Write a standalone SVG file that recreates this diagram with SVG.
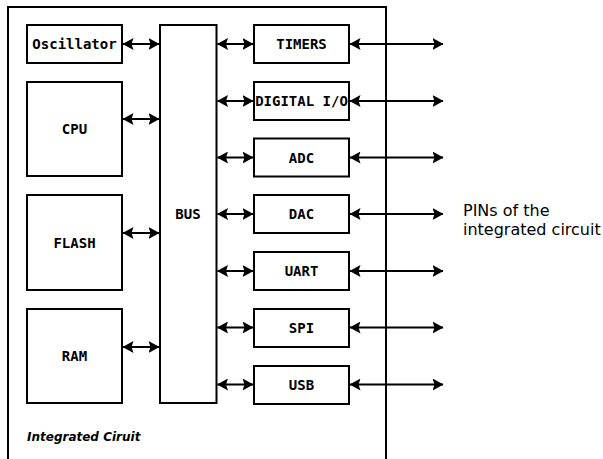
<svg xmlns="http://www.w3.org/2000/svg" width="603" height="459" viewBox="0 0 603 459">
  <style>
    .box { fill: #ffffff; stroke: #000000; stroke-width: 2; }
    .frame { fill: none; stroke: #000000; stroke-width: 2; }
    .lbl { font-family: "DejaVu Sans Mono", "Liberation Mono", monospace; font-weight: bold; font-size: 14px; text-anchor: middle; dominant-baseline: central; fill: #000000; }
    .link { stroke: #000000; stroke-width: 2; fill: none; }
    .both { marker-start: url(#head); marker-end: url(#head); }
    .pins { font-family: "DejaVu Sans", "Liberation Sans", sans-serif; font-size: 16px; fill: #000000; }
    .chip { font-family: "DejaVu Sans", "Liberation Sans", sans-serif; font-size: 12px; font-weight: bold; font-style: italic; fill: #000000; }
  </style>
  <defs>
    <marker id="head" viewBox="0 0 11 12" refX="10.5" refY="6" markerWidth="11" markerHeight="12" markerUnits="userSpaceOnUse" orient="auto-start-reverse">
      <path d="M0,0 L11,6 L0,12 L2,6 z" fill="#000000"/>
    </marker>
  </defs>
  <rect width="603" height="459" fill="#ffffff"/>

  <!-- chip outline (open at the bottom) -->
  <path class="frame" d="M8,460 V7 H386 V460"/>
  <text class="chip" x="27" y="441">Integrated Ciruit</text>

  <!-- internal blocks -->
  <g id="oscillator"><rect class="box" x="27" y="25" width="95" height="38"/><text class="lbl" x="74.5" y="44">Oscillator</text></g>
  <g id="cpu"><rect class="box" x="27" y="82" width="95" height="94"/><text class="lbl" x="74.5" y="129">CPU</text></g>
  <g id="flash"><rect class="box" x="27" y="195" width="95" height="95"/><text class="lbl" x="74.5" y="242.5">FLASH</text></g>
  <g id="ram"><rect class="box" x="27" y="309" width="95" height="94"/><text class="lbl" x="74.5" y="356">RAM</text></g>
  <g id="bus"><rect class="box" x="160" y="25" width="56.5" height="378"/><text class="lbl" x="188" y="214">BUS</text></g>

  <!-- peripherals -->
  <g id="timers"><rect class="box" x="254" y="25" width="95" height="38"/><text class="lbl" x="301.5" y="44">TIMERS</text></g>
  <g id="digital-io"><rect class="box" x="254" y="82" width="95" height="38"/><text class="lbl" x="301.5" y="101">DIGITAL I/O</text></g>
  <g id="adc"><rect class="box" x="254" y="138.5" width="95" height="38"/><text class="lbl" x="301.5" y="157.5">ADC</text></g>
  <g id="dac"><rect class="box" x="254" y="195" width="95" height="38"/><text class="lbl" x="301.5" y="214">DAC</text></g>
  <g id="uart"><rect class="box" x="254" y="252" width="95" height="38"/><text class="lbl" x="301.5" y="271">UART</text></g>
  <g id="spi"><rect class="box" x="254" y="309" width="95" height="38"/><text class="lbl" x="301.5" y="328">SPI</text></g>
  <g id="usb"><rect class="box" x="254" y="366" width="95" height="38"/><text class="lbl" x="301.5" y="385">USB</text></g>

  <g id="pins-label">
    <text class="pins" x="463" y="215.5">PINs of the</text>
    <text class="pins" x="463" y="234.5">integrated circuit</text>
  </g>

  <!-- connectors -->
  <g id="connectors">
    <line class="link both" x1="123" y1="44" x2="159" y2="44"/>
    <line class="link both" x1="123" y1="119" x2="159" y2="119"/>
    <line class="link both" x1="123" y1="233" x2="159" y2="233"/>
    <line class="link both" x1="123" y1="347" x2="159" y2="347"/>

    <line class="link both" x1="217.5" y1="44" x2="253" y2="44"/>
    <line class="link both" x1="217.5" y1="101" x2="253" y2="101"/>
    <line class="link both" x1="217.5" y1="157.5" x2="253" y2="157.5"/>
    <line class="link both" x1="217.5" y1="214" x2="253" y2="214"/>
    <line class="link both" x1="217.5" y1="271" x2="253" y2="271"/>
    <line class="link both" x1="217.5" y1="327.5" x2="253" y2="327.5"/>
    <line class="link both" x1="217.5" y1="384.5" x2="253" y2="384.5"/>

    <line class="link both" x1="350" y1="44" x2="443" y2="44"/>
    <line class="link both" x1="350" y1="101" x2="443" y2="101"/>
    <line class="link both" x1="350" y1="157.5" x2="443" y2="157.5"/>
    <line class="link both" x1="350" y1="214" x2="443" y2="214"/>
    <line class="link both" x1="350" y1="271" x2="443" y2="271"/>
    <line class="link both" x1="350" y1="327.5" x2="443" y2="327.5"/>
    <line class="link both" x1="350" y1="384.5" x2="443" y2="384.5"/>
  </g>
</svg>
